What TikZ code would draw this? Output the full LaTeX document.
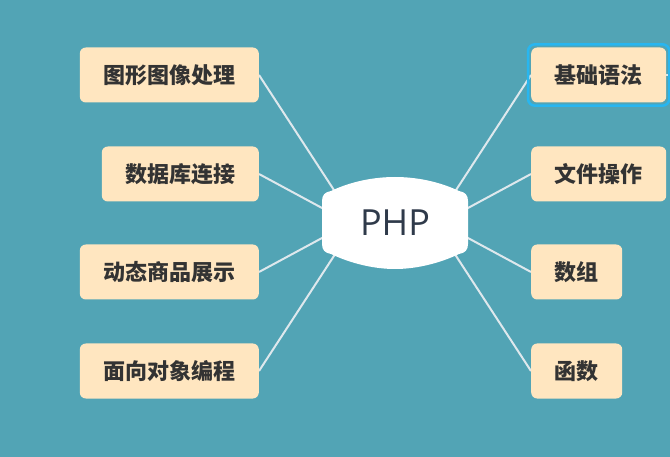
\documentclass[tikz,border=0pt]{standalone}
\usepackage{fontspec}
\setmainfont{Open Sans}
\newfontfamily\cjk{Noto Sans CJK SC}
\usepackage{tikz}
\usetikzlibrary{calc,backgrounds}
\definecolor{bgteal}{RGB}{82,164,181}
\definecolor{peach}{RGB}{255,230,192}
\definecolor{ink}{RGB}{51,51,51}
\definecolor{phpink}{RGB}{47,58,74}
\definecolor{wire}{RGB}{222,232,237}
\definecolor{selblue}{RGB}{40,182,240}
\begin{document}
\begin{tikzpicture}[x=1pt,y=-1pt,
 t/.style={fill=peach,rounded corners=6pt,inner xsep=23.5pt,minimum height=55pt,font=\cjk\bfseries\fontsize{22}{26}\selectfont,text=ink},
 c/.style={minimum width=146pt,minimum height=92pt,font=\fontsize{36}{42}\selectfont,text=phpink},
 ln/.style={draw=wire,line width=2pt}]
\useasboundingbox (0,0) rectangle (670,457);
\node[c] (php) at (395,223) {PHP};
\node[t,anchor=east] (tx) at (259,75) {图形图像处理};
\node[t,anchor=east] (sj) at (259,174) {数据库连接};
\node[t,anchor=east] (dt) at (259,272) {动态商品展示};
\node[t,anchor=east] (mx) at (259,371) {面向对象编程};
\node[t,anchor=west] (jc) at (531,75) {基础语法};
\node[t,anchor=west] (wj) at (531,174) {文件操作};
\node[t,anchor=west] (sz) at (531,272) {数组};
\node[t,anchor=west] (hs) at (531,371) {函数};
\coordinate (more) at (672,75);
\draw[selblue,line width=2.5pt,rounded corners=7pt] ($(jc.north west)+(-3,-3)$) rectangle ($(jc.south east)+(3,3)$);
\begin{scope}[on background layer]
\fill[bgteal] (0,0) rectangle (670,457);
% connectors, under the centre shape
\draw[ln] (tx.east) -- ($(php)+(-50,-16)$);
\draw[ln] (sj.east) -- ($(php)+(-60,-8)$);
\draw[ln] (dt.east) -- ($(php)+(-60,8)$);
\draw[ln] (mx.east) -- ($(php)+(-50,16)$);
\draw[ln] (jc.west) -- ($(php)+(50,-16)$);
\draw[ln] (wj.west) -- ($(php)+(60,-8)$);
\draw[ln] (sz.west) -- ($(php)+(60,8)$);
\draw[ln] (hs.west) -- ($(php)+(50,16)$);
\draw[ln] (jc.east) -- (more);
\fill[white] (322,201) -- (322,244)
 .. controls (322,250) and (325,253) .. (331,254)
 .. controls (352,264) and (375,269) .. (395,269)
 .. controls (415,269) and (438,264) .. (459,254)
 .. controls (465,253) and (468,250) .. (468,244) -- (468,201)
 .. controls (468,195) and (465,192) .. (459,191)
 .. controls (438,181) and (415,177) .. (395,177)
 .. controls (375,177) and (352,181) .. (331,191)
 .. controls (325,192) and (322,195) .. (322,201) -- cycle;
\end{scope}
\end{tikzpicture}
\end{document}
